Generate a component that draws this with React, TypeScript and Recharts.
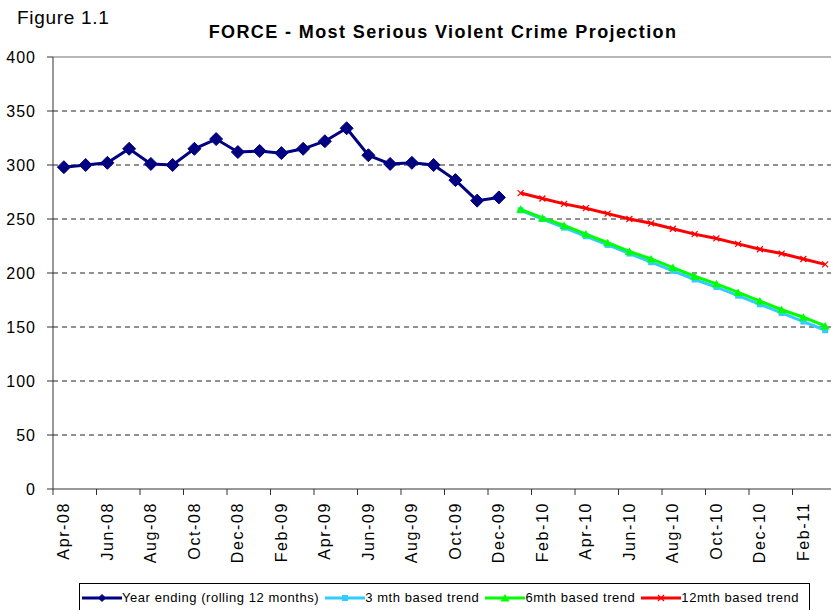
import React from "react";
import {
  LineChart,
  Line,
  XAxis,
  YAxis,
  CartesianGrid,
  ReferenceLine,
  Legend,
} from "recharts";

const FONT = "'Liberation Sans', Arial, sans-serif";

// monthly categories, Apr-08 .. Mar-11
const months = [
  "Apr-08", "May-08", "Jun-08", "Jul-08", "Aug-08", "Sep-08", "Oct-08", "Nov-08", "Dec-08",
  "Jan-09", "Feb-09", "Mar-09", "Apr-09", "May-09", "Jun-09", "Jul-09", "Aug-09", "Sep-09",
  "Oct-09", "Nov-09", "Dec-09", "Jan-10", "Feb-10", "Mar-10", "Apr-10", "May-10", "Jun-10",
  "Jul-10", "Aug-10", "Sep-10", "Oct-10", "Nov-10", "Dec-10", "Jan-11", "Feb-11", "Mar-11",
];

// Year ending (rolling 12 months), Apr-08 .. Dec-09
const rolling = [298, 300, 302, 315, 301, 300, 315, 324, 312, 313, 311, 315, 322, 334, 309, 301, 302, 300, 286, 267, 270];

// projections, Jan-10 .. Mar-11
const trend3 = [258, 250, 242, 234, 226, 218, 210, 202, 194, 187, 179, 171, 163, 155, 147];
const trend6 = [259, 251, 244, 236, 228, 220, 213, 205, 197, 190, 182, 174, 166, 159, 151];
const trend12 = [274, 269, 264, 260, 255, 250, 246, 241, 236, 232, 227, 222, 218, 213, 208];

const yTicks = [0, 50, 100, 150, 200, 250, 300, 350, 400];
const gridValues = [50, 100, 150, 200, 250, 300, 350];

const seriesOrder = ["rolling", "t3", "t6", "t12"];

const projStart = rolling.length;

const data = months.map((m, i) => ({
  month: m,
  rolling: i < rolling.length ? rolling[i] : null,
  t3: i >= projStart ? trend3[i - projStart] : null,
  t6: i >= projStart ? trend6[i - projStart] : null,
  t12: i >= projStart ? trend12[i - projStart] : null,
}));

const COLORS: Record<string, string> = {
  rolling: "#000080",
  t3: "#33CCFF",
  t6: "#00FF00",
  t12: "#FF0000",
};

function Marker({ kind, cx, cy, small }: { kind: string; cx: number; cy: number; small?: boolean }) {
  const c = COLORS[kind];
  if (kind === "rolling") {
    const r = small ? 3.5 : 6.5;
    return <polygon points={`${cx},${cy - r} ${cx + r},${cy} ${cx},${cy + r} ${cx - r},${cy}`} fill={c} stroke={c} />;
  }
  if (kind === "t3") {
    return <rect x={cx - 3} y={cy - 3} width={6} height={6} fill={c} />;
  }
  if (kind === "t6") {
    return <polygon points={`${cx},${cy - 4} ${cx + 4.5},${cy + 3.5} ${cx - 4.5},${cy + 3.5}`} fill={c} />;
  }
  return (
    <g stroke={c} strokeWidth={1.2}>
      <line x1={cx - 3} y1={cy - 3} x2={cx + 3} y2={cy + 3} />
      <line x1={cx - 3} y1={cy + 3} x2={cx + 3} y2={cy - 3} />
    </g>
  );
}

const makeDot = (kind: string) => (props: any) => {
  const { cx, cy, index } = props;
  if (cx == null || cy == null || props.value == null) return <g key={index} />;
  return (
    <g key={index}>
      <Marker kind={kind} cx={cx} cy={cy} />
    </g>
  );
};

function MonthTick(props: any) {
  const { x, y, payload } = props;
  const half = payload.offset ?? 10.9;
  const ty = y + 13;
  return (
    <g>
      <line x1={x - half} x2={x - half} y1={y} y2={y + 6} stroke="#333" />
      <text
        x={x}
        y={ty}
        transform={`rotate(-90 ${x} ${ty})`}
        textAnchor="end"
        dominantBaseline="central"
        fontSize={16}
        fontFamily={FONT}
        fill="#000"
        style={{ letterSpacing: 1.6 }}
      >
        {payload.value}
      </text>
    </g>
  );
}

function LegendBox(props: any) {
  const items = [...(props.payload || [])].sort(
    (a: any, b: any) => seriesOrder.indexOf(a.dataKey) - seriesOrder.indexOf(b.dataKey)
  );
  return (
    <div
      style={{
        boxSizing: "border-box",
        width: 731,
        height: 34,
        border: "1px solid #000",
        background: "#fff",
        display: "flex",
        alignItems: "flex-start",
        paddingTop: 7,
        paddingLeft: 2,
        gap: 6,
        fontFamily: FONT,
        fontSize: 13,
        lineHeight: "14px",
        letterSpacing: 0.55,
        color: "#000",
      }}
    >
      {items.map((it: any) => (
        <div key={it.dataKey} style={{ display: "flex", alignItems: "center" }}>
          <svg width={40} height={12} style={{ display: "block" }}>
            <line x1={0} x2={40} y1={6} y2={6} stroke={COLORS[it.dataKey]} strokeWidth={3} />
            <Marker kind={it.dataKey} cx={20} cy={6} small />
          </svg>
          <span style={{ whiteSpace: "pre" }}>{it.value}</span>
        </div>
      ))}
    </div>
  );
}

export default function App() {
  return (
    <div
      style={{
        position: "absolute",
        left: 0,
        top: 0,
        width: 831,
        height: 610,
        overflow: "hidden",
        background: "#fff",
        fontFamily: FONT,
      }}
    >
      <LineChart
        width={850}
        height={610}
        data={data}
        margin={{ top: 57, right: 14, bottom: 0, left: 0 }}
      >
        <CartesianGrid
          horizontal
          vertical={false}
          horizontalValues={gridValues}
          stroke="#222"
          strokeDasharray="5 4"
        />
        <ReferenceLine y={400} stroke="#a0a0a0" strokeWidth={1.5} />
        <XAxis
          dataKey="month"
          scale="band"
          interval={1}
          height={121}
          tickLine={false}
          tickSize={0}
          tickMargin={0}
          axisLine={{ stroke: "#333" }}
          tick={<MonthTick />}
        />
        <YAxis
          width={53}
          domain={[0, 400]}
          ticks={yTicks}
          allowDataOverflow
          tickSize={6}
          tickMargin={11}
          axisLine={{ stroke: "#333" }}
          tickLine={{ stroke: "#333" }}
          tick={{ fontSize: 16, fill: "#000", fontFamily: FONT, style: { letterSpacing: 1 } } as any}
        />
        <Legend
          layout="horizontal"
          verticalAlign="middle"
          align="center"
          wrapperStyle={{ position: "absolute", top: 583, left: 79, width: 731 }}
          content={<LegendBox />}
        />
        <Line
          dataKey="rolling"
          name="Year ending (rolling 12 months)"
          stroke={COLORS.rolling}
          strokeWidth={3}
          dot={makeDot("rolling")}
          activeDot={false}
          isAnimationActive={false}
        />
        <Line
          dataKey="t3"
          name="3 mth based trend"
          stroke={COLORS.t3}
          strokeWidth={3}
          dot={makeDot("t3")}
          activeDot={false}
          isAnimationActive={false}
        />
        <Line
          dataKey="t6"
          name="6mth based trend"
          stroke={COLORS.t6}
          strokeWidth={3}
          dot={makeDot("t6")}
          activeDot={false}
          isAnimationActive={false}
        />
        <Line
          dataKey="t12"
          name="12mth based trend"
          stroke={COLORS.t12}
          strokeWidth={3}
          dot={makeDot("t12")}
          activeDot={false}
          isAnimationActive={false}
        />
      </LineChart>
      <div
        style={{
          position: "absolute",
          left: 17,
          top: 8,
          fontSize: 19,
          lineHeight: "19px",
          letterSpacing: 0.7,
          color: "#000",
        }}
      >
        Figure 1.1
      </div>
      <div
        style={{
          position: "absolute",
          left: 0,
          width: 886,
          top: 23,
          textAlign: "center",
          fontSize: 18,
          lineHeight: "18px",
          fontWeight: "bold",
          letterSpacing: 1.4,
          color: "#000",
        }}
      >
        FORCE - Most Serious Violent Crime Projection
      </div>
    </div>
  );
}
